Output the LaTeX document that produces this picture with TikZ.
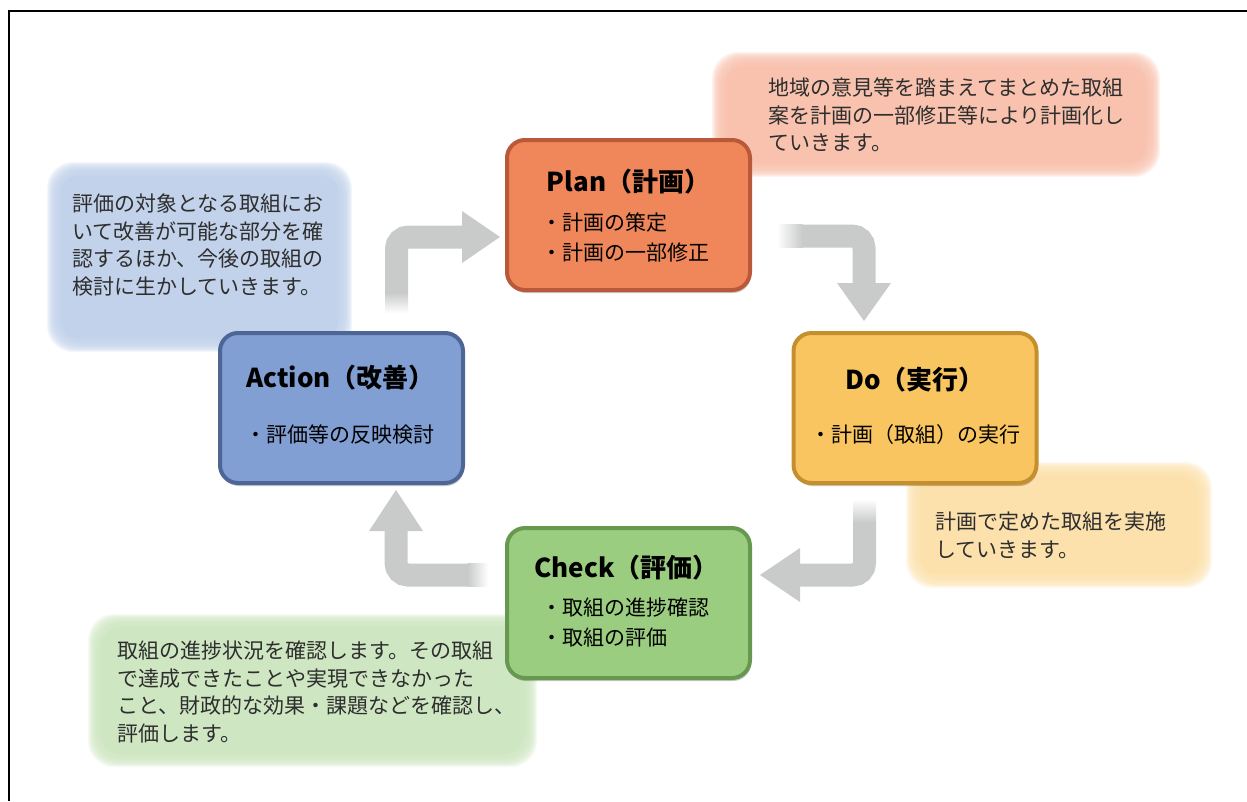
\documentclass[tikz,border=0pt]{standalone}
\usepackage{fontspec}
\setmainfont{Noto Sans CJK JP}
\usepackage{tikz}
\usetikzlibrary{calc}

\definecolor{planfill}{HTML}{EF875A}
\definecolor{planline}{HTML}{B9593A}
\definecolor{dofill}{HTML}{F9C560}
\definecolor{doline}{HTML}{C48F2C}
\definecolor{actfill}{HTML}{819FD3}
\definecolor{actline}{HTML}{4E6696}
\definecolor{chkfill}{HTML}{9BCD80}
\definecolor{chkline}{HTML}{66984F}
\definecolor{planmemo}{HTML}{F8C2AE}
\definecolor{domemo}{HTML}{FCE1AD}
\definecolor{actmemo}{HTML}{C2D2EA}
\definecolor{chkmemo}{HTML}{CEE6C1}
\definecolor{arrowgray}{HTML}{C9CACA}
\definecolor{memotext}{HTML}{2E2E2E}

\newcommand{\BoxW}{243pt}
\newcommand{\BoxH}{150pt}
% soft edged memo sheet: colour, top left, bottom right
\newcommand{\Memo}[3]{%
  \foreach \inset in {0,1,...,13}{
    \fill[#1, opacity=0.2, rounded corners=26pt] ($(#2)+(\inset,\inset)$) rectangle ($(#3)-(\inset,\inset)$);
  }
  \fill[#1, rounded corners=16pt] ($(#2)+(14,14)$) rectangle ($(#3)-(14,14)$);
}
\tikzset{Stage/.style={
    inner sep=0pt,
    minimum width=\BoxW,
    minimum height=\BoxH,
    rounded corners=18pt,
    line width=4pt,
    preaction={fill=black, opacity=.22, transform canvas={xshift=1pt, yshift=-3pt}},
 append after command={% <= inner bevel
        \pgfextra{%
            \begin{pgfinterruptpath}
            \draw[white, opacity=.3, line width=3pt, rounded corners=14pt]
                ($(\tikzlastnode.north west)+(5,5)$) rectangle ($(\tikzlastnode.south east)+(-5,-5)$);
            \draw[black, opacity=.12, line width=2pt, rounded corners=12pt]
                ($(\tikzlastnode.north west)+(7.5,7.5)$) rectangle ($(\tikzlastnode.south east)+(-7.5,-7.5)$);
            \end{pgfinterruptpath}
        }
    }},
  Title/.style={inner sep=0pt, font=\bfseries\fontsize{26}{30}\selectfont},
  Item/.style={inner sep=0pt, align=left, font=\fontsize{21}{30}\selectfont},
  MemoText/.style={inner sep=0pt, align=left, text=memotext, font=\fontsize{21}{27.5}\selectfont},
  Flow/.style={draw=arrowgray, line width=23pt, rounded corners=12pt},
}

\begin{document}
\begin{tikzpicture}[x=1pt, y=-1pt]
\useasboundingbox (0,0) rectangle (1247,801);
% memo sheets
\Memo{planmemo}{712,52}{1160,177}
\Memo{actmemo}{47,162}{352,352}
\Memo{domemo}{906,462}{1212,588}
\Memo{chkmemo}{88,614}{537,767}
\node[MemoText, anchor=north west] (plan-memo) at (768,78) {地域の意見等を踏まえてまとめた取組\\案を計画の一部修正等により計画化し\\ていきます。};
\node[MemoText, anchor=north west] (act-memo) at (72,194) {評価の対象となる取組にお\\いて改善が可能な部分を確\\認するほか、今後の取組の\\検討に生かしていきます。};
\node[MemoText, anchor=north west] (do-memo) at (935,512) {計画で定めた取組を実施\\していきます。};
\node[MemoText, anchor=north west] (chk-memo) at (117,641) {取組の進捗状況を確認します。その取組\\で達成できたことや実現できなかった\\こと、財政的な効果・課題などを確認し、\\評価します。};

% the four stages
\node [Stage, fill=planfill, draw=planline] (plan) at (628.5,215) {};
\node [Title] (plan-title) at ($(plan)+(0,-33)$) {Plan（計画）};
\node [Item, anchor=west] (plan-items) at ($(plan.west)+(36,22)$) {・計画の策定\\・計画の一部修正};

\node [Stage, fill=dofill, draw=doline] (do) at (915,408) {};
\node [Title] (do-title) at ($(do)+(0,-28)$) {Do（実行）};
\node [Item] (do-items) at ($(do)+(0,27)$) {・計画（取組）の実行};

\node [Stage, fill=actfill, draw=actline] (act) at (341.5,408) {};
\node [Title] (act-title) at ($(act)+(-1,-30)$) {Action（改善）};
\node [Item] (act-items) at ($(act)+(-2,27)$) {・評価等の反映検討};

\node [Stage, fill=chkfill, draw=chkline] (chk) at (628.5,603) {};
\node [Title] (chk-title) at ($(chk)+(-2,-35)$) {Check（評価）};
\node [Item, anchor=west] (chk-items) at ($(chk.west)+(36,20)$) {・取組の進捗確認\\・取組の評価};

% plan -> do
\coordinate (pd-s) at ($(plan.east)+(50,21)$);
\coordinate (pd-e) at ($(do.north)+(-51,-47)$);
\coordinate (pd-t) at ($(do.north)+(-51,-10)$);
\draw[Flow] (pd-s) -| (pd-e);
\fill[arrowgray] ($(pd-e)+(-27,-1)$) -- ($(pd-e)+(27,-1)$) -- (pd-t) -- cycle;
\shade[left color=white, right color=arrowgray] ($(pd-s)+(-25,-11.5)$) rectangle ($(pd-s)+(0.5,11.5)$);

% do -> check
\coordinate (dc-s) at ($(do.south)+(-50.5,37)$);
\coordinate (dc-e) at ($(chk.east)+(47,-28)$);
\coordinate (dc-t) at ($(chk.east)+(8,-28)$);
\draw[Flow] (dc-s) |- (dc-e);
\fill[arrowgray] ($(dc-e)+(1,-27)$) -- ($(dc-e)+(1,27)$) -- (dc-t) -- cycle;
\shade[top color=white, bottom color=arrowgray] ($(dc-s)+(-11.5,-23)$) rectangle ($(dc-s)+(11.5,0.5)$);

% check -> action
\coordinate (ca-s) at ($(chk.west)+(-37,-28)$);
\coordinate (ca-e) at ($(act.south)+(54.5,45)$);
\coordinate (ca-t) at ($(act.south)+(54.5,5)$);
\draw[Flow] (ca-s) -| (ca-e);
\fill[arrowgray] ($(ca-e)+(-27,1)$) -- ($(ca-e)+(27,1)$) -- (ca-t) -- cycle;
\shade[left color=arrowgray, right color=white] ($(ca-s)+(-0.5,-11.5)$) rectangle ($(ca-s)+(20,11.5)$);

% action -> plan
\coordinate (ap-s) at ($(act.north)+(55,-38)$);
\coordinate (ap-e) at ($(plan.west)+(-42,22)$);
\coordinate (ap-t) at ($(plan.west)+(-5,22)$);
\draw[Flow] (ap-s) |- (ap-e);
\fill[arrowgray] ($(ap-e)+(-1,-26)$) -- ($(ap-e)+(-1,26)$) -- (ap-t) -- cycle;
\shade[top color=arrowgray, bottom color=white] ($(ap-s)+(-11.5,-0.5)$) rectangle ($(ap-s)+(11.5,20)$);

% frame
\draw[line width=1.5pt] (9,801) -- (9,11) -- (1247,11);
\end{tikzpicture}
\end{document}
